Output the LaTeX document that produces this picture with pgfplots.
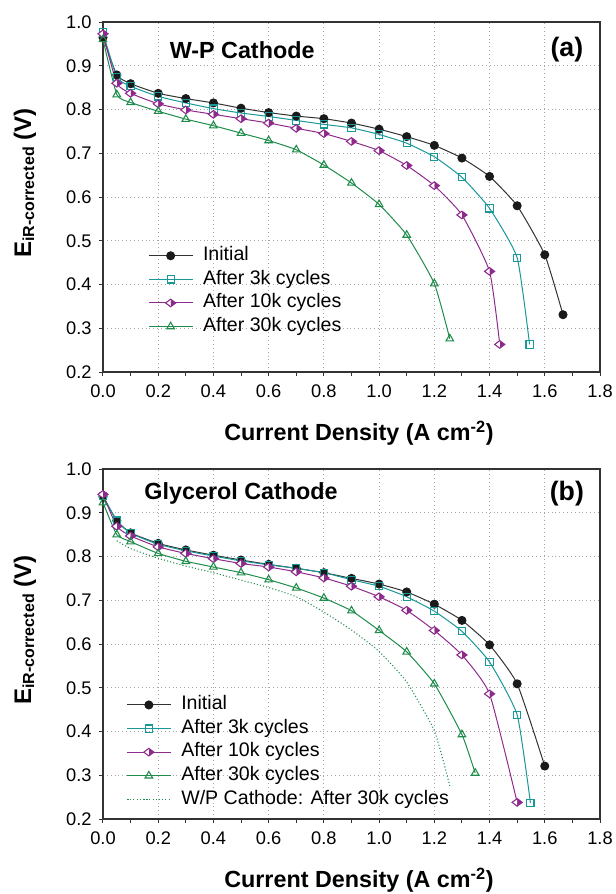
\documentclass[border=0pt]{standalone}
\usepackage{pgfplots}
\pgfplotsset{compat=1.18}
\usepackage{pgfplotstable}
\usepackage{fontspec}
\setmainfont{Liberation Sans}
\usetikzlibrary{plotmarks}

\definecolor{cinit}{HTML}{1A1A1A}
\definecolor{cinitl}{HTML}{333333}
\definecolor{cthree}{HTML}{1A9898}
\definecolor{cten}{HTML}{8E2A8C}
\definecolor{cthirty}{HTML}{1E8C4A}
\definecolor{cframe}{HTML}{333333}

\pgfplotstableread{
x y
0 0.965
0.05 0.879
0.1 0.859
0.2 0.837
0.3 0.825
0.4 0.815
0.5 0.803
0.6 0.793
0.7 0.785
0.8 0.779
0.9 0.769
1.0 0.755
1.1 0.738
1.2 0.718
1.3 0.689
1.4 0.647
1.5 0.580
1.6 0.468
1.666 0.331
}\aInit
\pgfplotstableread{
x y
0 0.976
0.05 0.874
0.1 0.853
0.2 0.830
0.3 0.815
0.4 0.802
0.5 0.792
0.6 0.784
0.7 0.775
0.8 0.766
0.9 0.758
1.0 0.743
1.1 0.723
1.2 0.692
1.3 0.645
1.4 0.574
1.5 0.461
1.545 0.263
}\aThree
\pgfplotstableread{
x y
0 0.973
0.05 0.860
0.1 0.837
0.2 0.813
0.3 0.799
0.4 0.789
0.5 0.779
0.6 0.769
0.7 0.757
0.8 0.745
0.9 0.727
1.0 0.706
1.1 0.672
1.2 0.626
1.3 0.559
1.4 0.430
1.437 0.263
}\aTen
\pgfplotstableread{
x y
0 0.960
0.05 0.834
0.1 0.816
0.2 0.796
0.3 0.778
0.4 0.763
0.5 0.746
0.6 0.729
0.7 0.708
0.8 0.673
0.9 0.632
1.0 0.583
1.1 0.513
1.2 0.402
1.256 0.276
}\aThirty
\pgfplotstableread{
x y
0.05 0.836
0.1 0.818
0.2 0.796
0.3 0.778
0.4 0.763
0.5 0.746
0.6 0.729
0.7 0.708
0.8 0.673
0.9 0.632
1.0 0.583
1.1 0.513
1.2 0.402
1.256 0.276
}\bWP
\pgfplotstableread{
x y
0 0.937
0.05 0.882
0.1 0.854
0.2 0.830
0.3 0.815
0.4 0.803
0.5 0.792
0.6 0.782
0.7 0.773
0.8 0.763
0.9 0.750
1.0 0.737
1.1 0.719
1.2 0.691
1.3 0.654
1.4 0.598
1.5 0.509
1.6 0.321
}\bInit
\pgfplotstableread{
x y
0 0.939
0.05 0.882
0.1 0.853
0.2 0.828
0.3 0.813
0.4 0.801
0.5 0.790
0.6 0.781
0.7 0.773
0.8 0.763
0.9 0.747
1.0 0.732
1.1 0.708
1.2 0.675
1.3 0.629
1.4 0.559
1.5 0.438
1.548 0.237
}\bThree
\pgfplotstableread{
x y
0 0.942
0.05 0.869
0.1 0.847
0.2 0.822
0.3 0.807
0.4 0.795
0.5 0.784
0.6 0.776
0.7 0.765
0.8 0.751
0.9 0.732
1.0 0.708
1.1 0.677
1.2 0.631
1.3 0.575
1.4 0.486
1.5 0.238
}\bTen
\pgfplotstableread{
x y
0 0.923
0.05 0.850
0.1 0.834
0.2 0.807
0.3 0.789
0.4 0.776
0.5 0.763
0.6 0.747
0.7 0.728
0.8 0.705
0.9 0.676
1.0 0.631
1.1 0.582
1.2 0.509
1.3 0.393
1.348 0.305
}\bThirty

\pgfplotsset{
  panel/.style={
    scale only axis,
    width=372.75pt, height=262.5pt,
    xmin=0, xmax=1.8, ymin=0.2, ymax=1.0,
    xtick={0,0.2,...,1.8}, ytick={0.2,0.3,...,1.0},
    minor x tick num=1,
    tick align=outside, tick pos=left,
    major tick length=3pt, minor tick length=3pt,
    every tick/.style={cframe, line width=0.75pt},
    axis line style={cframe, line width=1.6pt},
    grid=major,
    major grid style={gray!70, line width=0.6pt, dash pattern=on 0.7pt off 2.2pt},
    tick label style={font=\fontsize{13.7}{15}\selectfont},
    /pgf/number format/assume math mode=true,
    /pgf/number format/.cd, fixed, fixed zerofill, precision=1, /pgfplots/.cd,
    xticklabel style={yshift=-3pt},
    yticklabel style={xshift=-2pt},
    xlabel={\bfseries Current Density (A cm\textsuperscript{-2})},
    xlabel style={font=\fontsize{17.5}{20}\selectfont, at={(rel axis cs:0.515,0)}, anchor=center, yshift=-45.75pt},
    ylabel={\bfseries E{\fontsize{12}{14}\selectfont\raisebox{-0.35ex}{iR-corrected}} (V)},
    ylabel style={font=\fontsize{18}{20}\selectfont, at={(axis description cs:-0.157,0.54)}, anchor=center},
    legend cell align=left,
    legend style={draw=none, fill=none, inner sep=0pt, outer sep=0pt,
      font=\fontsize{14.7}{17}\selectfont,
      nodes={inner sep=0pt, text height=10.6pt, text depth=3.4pt},
      row sep=3.7pt, column sep=7.5pt},
    legend image code/.code={\draw[mark repeat=2,mark phase=2,#1] plot coordinates {(0pt,0pt)(16.4pt,0pt)(32.8pt,0pt)};},
  },
  sInit/.style={color=cinitl, line width=0.75pt, mark=*, mark size=3pt, mark options={fill=cinit, draw=cinit, solid}},
  sThree/.style={color=cthree, line width=0.75pt, mark=square, mark size=2.7pt, mark options={fill=white, solid, line width=0.8pt}},
  sTen/.style={color=cten, line width=0.75pt, mark=halfdiamond*, mark size=3.8pt, mark options={fill=cten, draw=cten, solid, rotate=90, line width=0.8pt}},
  sThirty/.style={color=cthirty, line width=0.75pt, mark=triangle, mark size=3.3pt, mark options={fill=white, solid, line width=0.8pt}},
}

\begin{document}
\begin{tikzpicture}
\path[use as bounding box] (-77.25pt,279pt) rectangle (384.75pt,-391.5pt);

\begin{axis}[panel, at={(0pt,0pt)}, anchor=south west,
  legend style={at={(axis cs:0.164,0.487)}, anchor=north west}]
\addplot[sInit, smooth, tension=0.3] table[x=x,y=y] {\aInit};
\addlegendentry{Initial}
\addplot[sThree, smooth, tension=0.3] table[x=x,y=y] {\aThree};
\addlegendentry{After 3k cycles}
\addplot[sTen, smooth, tension=0.3] table[x=x,y=y] {\aTen};
\addlegendentry{After 10k cycles}
\addplot[sThirty, smooth, tension=0.3] table[x=x,y=y] {\aThirty};
\addlegendentry{After 30k cycles}
\node[font=\fontsize{17.5}{20}\selectfont\bfseries] at (axis cs:0.504,0.936) {W-P Cathode};
\node[font=\fontsize{20}{22}\selectfont\bfseries] at (axis cs:1.68,0.938) {(a)};
\end{axis}

\begin{axis}[panel, at={(0pt,-335.25pt)}, anchor=south west,
  legend style={at={(axis cs:0.085,0.482)}, anchor=north west}]
\addplot[sInit, smooth, tension=0.3] table[x=x,y=y] {\bInit};
\addlegendentry{Initial}
\addplot[sThree, smooth, tension=0.3] table[x=x,y=y] {\bThree};
\addlegendentry{After 3k cycles}
\addplot[sTen, smooth, tension=0.3] table[x=x,y=y] {\bTen};
\addlegendentry{After 10k cycles}
\addplot[sThirty, smooth, tension=0.3] table[x=x,y=y] {\bThirty};
\addlegendentry{After 30k cycles}
\addplot[cthirty, line width=0.8pt, dash pattern=on 0.8pt off 1.6pt, smooth, tension=0.3, no markers] table[x=x,y=y] {\bWP};
\addlegendentry{W/P Cathode: After 30k cycles}
\node[font=\fontsize{17.5}{20}\selectfont\bfseries] at (axis cs:0.50,0.944) {Glycerol Cathode};
\node[font=\fontsize{20}{22}\selectfont\bfseries] at (axis cs:1.68,0.944) {(b)};
\end{axis}
\end{tikzpicture}
\end{document}
